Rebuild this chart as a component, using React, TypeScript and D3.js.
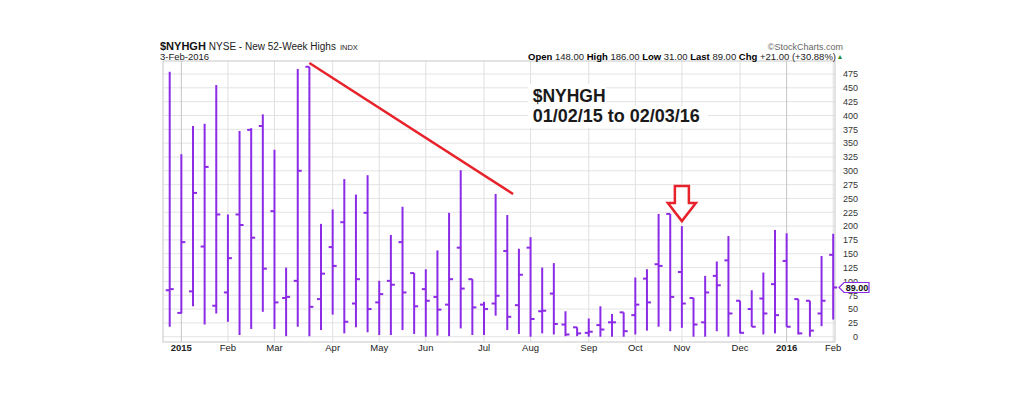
import * as d3 from "d3";

// weekly bars, 02-Jan-2015 .. 03-Feb-2016 (left tick = open, right tick = close)
const opens = [84, 43, 82, 163, 56, 80, 221, 374, 381, 227, 70, 101, 488, 68, 162, 207, 60, 224, 62, 101, 171, 115, 86, 72, 58, 161, 104, 58, 60, 155, 57, 161, 46, 78, 22, 17, 7, 21, 26, 44, 39, 105, 131, 222, 117, 70, 26, 110, 138, 65, 50, 69, 95, 137, 68, 65, 42, 148];
const highs = [479, 330, 381, 385, 455, 221, 372, 377, 402, 338, 125, 484, 488, 204, 230, 285, 257, 292, 101, 184, 235, 115, 122, 156, 224, 301, 104, 63, 258, 220, 159, 180, 125, 133, 46, 17, 33, 55, 41, 44, 107, 122, 222, 222, 200, 70, 110, 136, 182, 65, 84, 116, 193, 187, 68, 65, 146, 186];
const lows = [18, 42, 55, 22, 42, 27, 3, 14, 45, 14, 1, 18, 1, 12, 40, 6, 17, 8, 3, 3, 12, 5, 0, 2, 1, 15, 3, 3, 38, 12, 5, 0, 6, 4, 1, 1, 0, 0, 0, 0, 4, 11, 18, 10, 16, 0, 0, 10, 0, 6, 18, 4, 6, 18, 4, 0, 19, 31];
const closes = [86, 171, 260, 307, 221, 142, 202, 179, 123, 62, 72, 300, 54, 114, 128, 27, 104, 50, 77, 94, 80, 55, 65, 49, 104, 87, 53, 50, 74, 36, 112, 32, 47, 23, 4, 6, 9, 13, 26, 10, 58, 62, 128, 72, 60, 22, 80, 93, 42, 7, 18, 42, 39, 18, 6, 11, 65, 89];

const monthLabels = ["2015", "Feb", "Mar", "Apr", "May", "Jun", "Jul", "Aug", "Sep", "Oct", "Nov", "Dec", "2016", "Feb"];
const monthBars = [1, 5, 9, 14, 18, 22, 27, 31, 36, 40, 44, 49, 53, 57];
const yTicks = [0, 25, 50, 75, 100, 125, 150, 175, 200, 225, 250, 275, 300, 325, 350, 375, 400, 425, 450, 475];

const quoteLabels = ["Open", "High", "Low", "Last", "Chg"];
const quoteValues = ["148.00", "186.00", "31.00", "89.00", "+21.00 (+30.88%)"];
const lastValue = 89;

// hand-drawn annotations
const trendLine = [
  { bar: 12, value: 495 },
  { bar: 29.5, value: 258 },
];
const arrowMark = { bar: 44, value: 209 };

const W = 1022;
const H = 394;
const purple = "#8b2be6";
const red = "#e8222a";
const font = "'Liberation Sans', Arial, sans-serif";

export default function App() {
  const x = d3.scaleLinear().domain([0, 57]).range([169.7, 833.2]);
  const y = d3.scaleLinear().domain([0, 475]).range([336.7, 74]);
  const frame = { left: 163, right: 835, top: 61, bottom: 342 };
  const tick = 4;

  const trend = d3
    .line<{ bar: number; value: number }>()
    .x((d) => x(d.bar))
    .y((d) => y(d.value));

  // down arrow outline, tip at the marked value
  const ax = x(arrowMark.bar);
  const ay = y(arrowMark.value);
  const arrowPath = `M${ax - 7},${ay - 35} L${ax + 7},${ay - 35} L${ax + 7},${ay - 18} L${ax + 14},${ay - 18} L${ax},${ay} L${ax - 14},${ay - 18} L${ax - 7},${ay - 18} Z`;

  const ly = y(lastValue);

  return (
    <svg
      width={W}
      height={H}
      style={{ position: "absolute", left: 0, top: 0, background: "#fff" }}
      fontFamily={font}
    >
      {/* grid */}
      {yTicks.map((v) => (
        <line key={"h" + v} x1={frame.left} x2={frame.right} y1={y(v)} y2={y(v)} stroke="#e4e4e4" strokeWidth={1} />
      ))}
      {monthBars.map((b, i) => (
        <line
          key={"v" + i}
          x1={x(b)}
          x2={x(b)}
          y1={frame.top}
          y2={frame.bottom}
          stroke={monthLabels[i].length === 4 ? "#c4c4c4" : "#e0e0e0"}
          strokeWidth={1}
        />
      ))}
      <rect
        x={frame.left}
        y={frame.top}
        width={frame.right - frame.left}
        height={frame.bottom - frame.top}
        fill="none"
        stroke="#c8c8c8"
        strokeWidth={1}
      />

      {/* header */}
      <text x={160} y={50} fontSize={11} fill="#111">
        <tspan fontWeight="bold">$NYHGH</tspan>
        <tspan dx={3} fontSize={10} fill="#222">NYSE - New 52-Week Highs</tspan>
        <tspan dx={4} fontSize={7.5} fill="#222">INDX</tspan>
      </text>
      <text x={160} y={59.5} fontSize={9.5} fill="#222">3-Feb-2016</text>
      <text x={843} y={49.5} fontSize={9} fill="#666" textAnchor="end">©StockCharts.com</text>
      <text x={836} y={59.5} fontSize={9.5} fill="#222" textAnchor="end">
        {quoteLabels.map((l, i) => (
          <tspan key={l}>
            <tspan fontWeight="bold" fill="#000">{(i ? "  " : "") + l}</tspan>
            <tspan> {quoteValues[i]}</tspan>
          </tspan>
        ))}
      </text>
      <text x={840} y={59} fontSize={7} fill="#2f8f2f" textAnchor="middle">▲</text>

      {/* y axis labels */}
      {yTicks.map((v) => (
        <text key={"yl" + v} x={858} y={y(v) + 3.3} fontSize={9} fill="#333" textAnchor="end">
          {v}
        </text>
      ))}

      {/* x axis labels */}
      {monthLabels.map((m, i) => (
        <text
          key={"xl" + i}
          x={x(monthBars[i])}
          y={351}
          fontSize={9.5}
          fontWeight={m.length === 4 ? "bold" : "normal"}
          fill="#222"
          textAnchor="middle"
        >
          {m}
        </text>
      ))}

      {/* OHLC bars */}
      <g stroke={purple} strokeWidth={2}>
        {highs.map((h, i) => (
          <g key={"b" + i}>
            <line x1={x(i)} x2={x(i)} y1={y(h)} y2={y(lows[i])} />
            <line x1={x(i) - tick} x2={x(i)} y1={y(opens[i])} y2={y(opens[i])} />
            <line x1={x(i)} x2={x(i) + tick} y1={y(closes[i])} y2={y(closes[i])} />
          </g>
        ))}
      </g>

      {/* last value marker */}
      <path
        d={`M${frame.right + 4},${ly} L${frame.right + 9},${ly - 5} L${frame.right + 34},${ly - 5} L${frame.right + 34},${ly + 5} L${frame.right + 9},${ly + 5} Z`}
        fill="#fff"
        stroke={purple}
        strokeWidth={1.2}
      />
      <text x={frame.right + 22} y={ly + 3.3} fontSize={9} fontWeight="bold" fill="#111" textAnchor="middle">
        {lastValue.toFixed(2)}
      </text>

      {/* annotations */}
      <path d={trend(trendLine) ?? ""} fill="none" stroke={red} strokeWidth={2.5} />
      <path d={arrowPath} fill="#fff" stroke={red} strokeWidth={2.5} strokeLinejoin="miter" />

      <rect x={528} y={84} width={78} height={22} fill="#fff" />
      <rect x={528} y={106} width={180} height={22} fill="#fff" />
      <text x={532.7} y={101.7} fontSize={17.5} fontWeight="bold" fill="#1a1a1a">$NYHGH</text>
      <text x={532.7} y={121.7} fontSize={18} fontWeight="bold" fill="#1a1a1a">01/02/15 to 02/03/16</text>
    </svg>
  );
}
